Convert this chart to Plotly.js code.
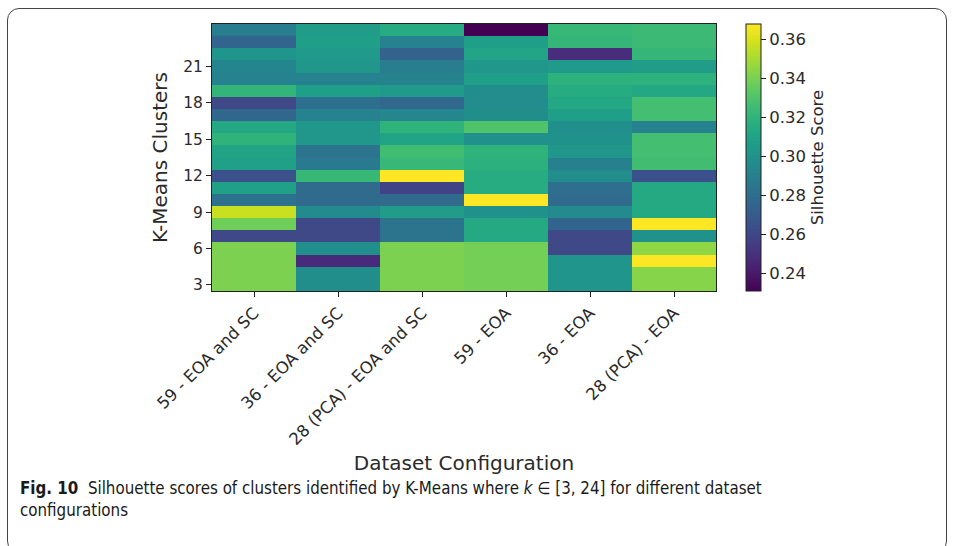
<!DOCTYPE html>
<html><head><meta charset="utf-8">
<script src="https://cdn.plot.ly/plotly-3.0.1.min.js"></script>
<style>
html,body{margin:0;padding:0;background:#fff;}
#wrap{position:relative;width:955px;height:546px;overflow:hidden;}
#box{position:absolute;left:7px;top:8px;width:940px;height:545px;border:1.3px solid #444;border-radius:12px;box-sizing:border-box;pointer-events:none;}
#chart{position:absolute;left:0;top:0;width:955px;height:546px;}
</style></head>
<body><div id="wrap"><div id="chart"></div><div id="box"></div></div>
<script>
// Dataset configurations (x categories)
const configs = ["59 - EOA and SC", "36 - EOA and SC", "28 (PCA) - EOA and SC", "59 - EOA", "36 - EOA", "28 (PCA) - EOA"];
// Number of K-Means clusters (k = 3 .. 24)
const clusters = [3,4,5,6,7,8,9,10,11,12,13,14,15,16,17,18,19,20,21,22,23,24];
const yTicks = [3,6,9,12,15,18,21];
// Silhouette score per configuration, for k = 3 .. 24
const s59EoaSc    = [0.341,0.341,0.341,0.341,0.261,0.338,0.357,0.282,0.309,0.265,0.309,0.310,0.320,0.313,0.276,0.261,0.321,0.291,0.293,0.302,0.275,0.289];
const s36EoaSc    = [0.298,0.298,0.247,0.299,0.261,0.261,0.296,0.278,0.278,0.323,0.287,0.283,0.303,0.303,0.291,0.281,0.308,0.291,0.303,0.305,0.308,0.306];
const s28PcaEoaSc = [0.341,0.341,0.341,0.341,0.283,0.283,0.306,0.278,0.258,0.368,0.323,0.326,0.310,0.320,0.294,0.277,0.305,0.292,0.289,0.274,0.291,0.315];
const s59Eoa      = [0.339,0.339,0.339,0.339,0.314,0.314,0.300,0.368,0.316,0.316,0.318,0.320,0.300,0.330,0.298,0.297,0.298,0.308,0.303,0.311,0.308,0.231];
const s36Eoa      = [0.302,0.302,0.302,0.261,0.261,0.275,0.296,0.278,0.280,0.298,0.290,0.303,0.300,0.299,0.308,0.313,0.316,0.319,0.305,0.248,0.322,0.323];
const s28PcaEoa   = [0.343,0.343,0.368,0.345,0.300,0.368,0.314,0.314,0.314,0.265,0.326,0.327,0.327,0.291,0.327,0.327,0.313,0.319,0.306,0.322,0.324,0.324];
const cbTicks = [0.24,0.26,0.28,0.30,0.32,0.34,0.36];
const cbLabels = ["0.24","0.26","0.28","0.30","0.32","0.34","0.36"];

const series = [s59EoaSc, s36EoaSc, s28PcaEoaSc, s59Eoa, s36Eoa, s28PcaEoa];
const z = clusters.map((k, i) => series.map(col => col[i]));

const W = 955, H = 546;
const L = 212, R = 716, T = 24, B = 291;
const px = x => (x - L) / (R - L);
const py = y => (B - y) / (B - T);
const font = "DejaVu Sans, sans-serif";
const tc = "#2a2a2a";

const trace = {
  type: "heatmap",
  x: configs,
  y: clusters,
  z: z,
  colorscale: "Viridis",
  zmin: 0.231,
  zmax: 0.368,
  xgap: 0, ygap: 0,
  colorbar: {
    x: px(746), xanchor: "left", xref: "paper", xpad: 0,
    y: 0.5, yanchor: "middle", len: 1, lenmode: "fraction", ypad: 0,
    thickness: 15, outlinewidth: 1, outlinecolor: "#222",
    tickvals: cbTicks,
    ticktext: cbLabels,
    ticks: "outside", ticklen: 5, tickcolor: "#222",
    tickfont: {family: font, size: 16.5, color: tc},
    title: {text: "Silhouette Score", side: "right", font: {family: font, size: 16.5, color: tc}}
  }
};

const layout = {
  width: W, height: H,
  margin: {l: L, r: W - R, t: T, b: H - B, pad: 0},
  paper_bgcolor: "rgba(0,0,0,0)",
  plot_bgcolor: "#fff",
  xaxis: {
    type: "category",
    tickangle: -45,
    ticks: "outside", ticklen: 5, tickcolor: "#222",
    tickfont: {family: font, size: 16.5, color: tc},
    showline: true, mirror: true, linecolor: "#222", linewidth: 1,
    showgrid: false, zeroline: false,
    title: {text: "Dataset Configuration", standoff: 8, font: {family: font, size: 20, color: tc}},
    automargin: false
  },
  yaxis: {
    range: [2.5, 24.5],
    tickvals: yTicks,
    ticks: "outside", ticklen: 5, tickcolor: "#222",
    tickfont: {family: font, size: 15.5, color: tc},
    showline: true, mirror: true, linecolor: "#222", linewidth: 1,
    showgrid: false, zeroline: false,
    title: {text: "K-Means Clusters", standoff: 10, font: {family: font, size: 20, color: tc}},
    automargin: false
  },
  annotations: [
    {xref: "paper", yref: "paper", x: px(18), y: py(488), xanchor: "left", yanchor: "middle", showarrow: false,
     align: "left",
     text: "<b>Fig. 10</b>  Silhouette scores of clusters identified by K-Means where <i>k</i> ∈ [3, 24] for different dataset",
     font: {family: "DejaVu Sans Condensed, sans-serif", size: 16.8, color: "#1a1a1a"}},
    {xref: "paper", yref: "paper", x: px(18), y: py(510), xanchor: "left", yanchor: "middle", showarrow: false,
     align: "left",
     text: "configurations",
     font: {family: "DejaVu Sans Condensed, sans-serif", size: 16.8, color: "#1a1a1a"}}
  ]
};

Plotly.newPlot("chart", [trace], layout, {displayModeBar: false, staticPlot: true});
</script></body></html>
